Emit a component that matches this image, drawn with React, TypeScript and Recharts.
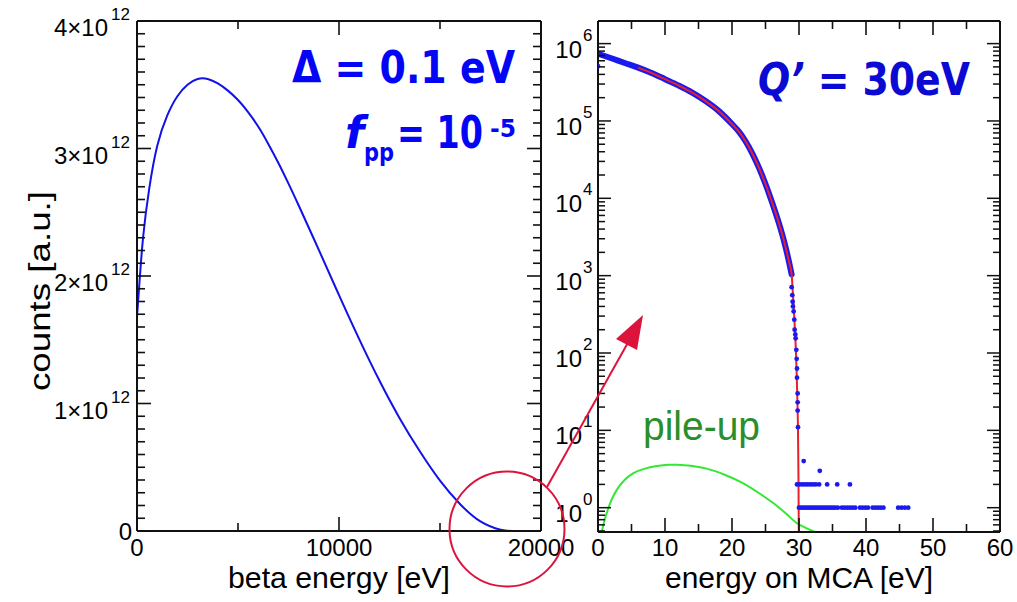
import React from "react";
import { ComposedChart, Line, Scatter, XAxis, YAxis } from "recharts";

// ---- left panel: beta spectrum ----
const betaEnergy = [0, 100, 300, 600, 1000, 1500, 2000, 2500, 3000, 3500, 4000, 4500, 5000, 5500, 6000, 6500, 7000, 7500, 8000, 9000, 10000, 11000, 12000, 13000, 14000, 15000, 16000, 17000, 18000, 18600];
const betaCounts = [1.68e12, 1.9e12, 2.3e12, 2.68e12, 3.02e12, 3.26e12, 3.41e12, 3.5e12, 3.545e12, 3.545e12, 3.51e12, 3.454e12, 3.38e12, 3.286e12, 3.172e12, 3.036e12, 2.886e12, 2.725e12, 2.555e12, 2.205e12, 1.85e12, 1.505e12, 1.18e12, 0.885e12, 0.625e12, 0.395e12, 0.21e12, 0.075e12, 0.01e12, 0];
const betaXTicks = [0, 10000, 20000];
const betaYTicks = [0, 1e12, 2e12, 3e12, 4e12];
const betaYLabels = ["0", "1×10", "2×10", "3×10", "4×10"];

// ---- right panel: MCA spectrum ----
const mcaEnergy = [0, 2, 4, 6, 8, 10, 12, 14, 16, 18, 20, 21, 22, 23, 24, 25, 25.7, 26, 26.5, 27, 27.5, 28, 28.5, 28.9];
const mcaCounts = [741000, 646000, 562000, 490000, 417000, 347000, 288000, 234000, 182000, 135000, 91200, 73300, 55000, 38500, 25100, 15300, 10400, 8750, 6520, 4780, 3400, 2330, 1520, 1040];
const fitTailEnergy = [29.1, 29.3, 29.45, 29.55, 29.65, 29.75, 29.85, 29.92, 29.97];
const fitTailCounts = [562, 282, 158, 100, 56, 26, 10, 2.5, 0.485];
const fitStart = 5;

const dotEnergy = [0, 28.9, 29.0, 29.05, 29.1, 29.2, 29.3, 29.35, 29.45, 29.5, 29.6, 29.65, 29.7, 29.7, 29.8, 29.8, 29.8, 29.85, 30.7, 33.1];
const dotCounts = [5.1e5, 710, 560, 460, 400, 345, 270, 200, 174, 155, 110, 84, 63, 48, 30, 23, 18, 11, 4, 3];
const twoCountEnergy = [29.7, 30.1, 30.5, 30.9, 31.3, 31.7, 32.1, 32.5, 33.0, 34.2, 35.7, 37.6];
const oneCountEnergy = [30.0, 30.3, 30.6, 30.9, 31.2, 31.5, 31.8, 32.1, 32.4, 32.7, 33.0, 33.3, 33.6, 33.9, 34.2, 34.5, 34.8, 35.1, 35.4, 35.8, 36.4, 36.8, 37.2, 37.6, 38.0, 38.4, 39.1, 39.5, 39.9, 40.3, 41.0, 41.4, 41.8, 42.2, 42.6, 44.8, 45.3, 45.8, 46.3];

const pileEnergy = [0.55, 0.9, 1.3, 2, 2.8, 4, 5.3, 7, 8.8, 10.5, 11.7, 13.5, 16.2, 19, 21.2, 24, 26.2, 28, 29.7, 31, 32.4];
const pileCounts = [0.485, 0.65, 0.85, 1.25, 1.7, 2.3, 2.8, 3.2, 3.45, 3.58, 3.6, 3.5, 3.2, 2.65, 2.17, 1.55, 1.14, 0.85, 0.63, 0.55, 0.485];

const mcaXTicks = [0, 10, 20, 30, 40, 50, 60];
const mcaYTicks = [1, 10, 100, 1000, 10000, 100000, 1000000];
const mcaYExp = ["0", "1", "2", "3", "4", "5", "6"];

const zip = (xs: number[], ys: number[]) => xs.map((e, i) => ({ e, v: ys[i] }));

const betaData = zip(betaEnergy, betaCounts);
const bandData = zip(mcaEnergy, mcaCounts);
const fitData = bandData.filter((d) => d.e >= fitStart).concat(zip(fitTailEnergy, fitTailCounts));
const dotData = zip(dotEnergy, dotCounts)
  .concat(twoCountEnergy.map((e) => ({ e, v: 2 })))
  .concat(oneCountEnergy.map((e) => ({ e, v: 1 })));
const pileData = zip(pileEnergy, pileCounts);

// tick positions incl. minor ones
const betaYMinor: number[] = [];
for (let i = 0; i <= 40; i++) betaYMinor.push(i * 1e11);
const betaXMinor = [0, 5000, 10000, 15000, 20000];
const mcaXMinor: number[] = [];
for (let i = 0; i <= 60; i += 5) mcaXMinor.push(i);
const LOG_MIN = 0.485;
const LOG_MAX = 1.96e6;
const mcaYMinor: number[] = [];
for (const d of [0.1, 1, 10, 100, 1000, 10000, 100000, 1000000]) {
  for (let m = 1; m <= 9; m++) {
    const t = d * m;
    if (t >= LOG_MIN && t <= LOG_MAX) mcaYMinor.push(t);
  }
}

const FONT = "'Liberation Sans', Arial, Helvetica, sans-serif";
const BOLD = "'DejaVu Sans', sans-serif";
const AX = "#111";
const MAJ = 14;
const MIN = 8;

const near = (a: number, b: number) => Math.abs(a - b) < 1e-6 * Math.max(1, Math.abs(b));

const BetaYTick = (p: any) => {
  const { x, y, payload } = p;
  const idx = betaYTicks.findIndex((t) => near(payload.value, t));
  const major = idx >= 0;
  return (
    <g>
      <line x1={x} x2={x + (major ? MAJ : MIN)} y1={y} y2={y} stroke={AX} strokeWidth={1.6} />
      {major && idx === 0 && (
        <text x={x - 5} y={y + 9} textAnchor="end" fontFamily={FONT} fontSize={24}>0</text>
      )}
      {major && idx > 0 && (
        <g fontFamily={FONT} fill="#000">
          <text x={x - 29} y={y + 15} textAnchor="end" fontSize={24}>{betaYLabels[idx]}</text>
          <text x={x - 7} y={y - 1} textAnchor="end" fontSize={17}>12</text>
        </g>
      )}
    </g>
  );
};

const BetaYTickR = (p: any) => {
  const { x, y, payload } = p;
  const major = betaYTicks.some((t) => near(payload.value, t));
  return <line x1={x} x2={x - (major ? MAJ : MIN)} y1={y} y2={y} stroke={AX} strokeWidth={1.6} />;
};

const BetaXTick = (p: any) => {
  const { x, y, payload } = p;
  const major = betaXTicks.some((t) => near(payload.value, t));
  return (
    <g>
      <line x1={x} x2={x} y1={y} y2={y - (major ? MAJ : MIN)} stroke={AX} strokeWidth={1.6} />
      {major && (
        <text x={x} y={y + 25} textAnchor="middle" fontFamily={FONT} fontSize={24}>{String(payload.value)}</text>
      )}
    </g>
  );
};

const BetaXTickT = (p: any) => {
  const { x, y, payload } = p;
  const major = betaXTicks.some((t) => near(payload.value, t));
  return <line x1={x} x2={x} y1={y} y2={y + (major ? MAJ : MIN)} stroke={AX} strokeWidth={1.6} />;
};

const McaYTick = (p: any) => {
  const { x, y, payload } = p;
  const idx = mcaYTicks.findIndex((t) => near(payload.value, t));
  const major = idx >= 0;
  return (
    <g>
      <line x1={x} x2={x + (major ? 13 : 7)} y1={y} y2={y} stroke={AX} strokeWidth={1.5} />
      {major && (
        <g fontFamily={FONT} fill="#000">
          <text x={x - 16} y={y + 14} textAnchor="end" fontSize={24}>10</text>
          <text x={x - 15} y={y - 3} fontSize={17}>{mcaYExp[idx]}</text>
        </g>
      )}
    </g>
  );
};

const McaYTickR = (p: any) => {
  const { x, y, payload } = p;
  const major = mcaYTicks.some((t) => near(payload.value, t));
  return <line x1={x} x2={x - (major ? 13 : 7)} y1={y} y2={y} stroke={AX} strokeWidth={1.5} />;
};

const McaXTick = (p: any) => {
  const { x, y, payload } = p;
  const major = mcaXTicks.some((t) => near(payload.value, t));
  return (
    <g>
      <line x1={x} x2={x} y1={y} y2={y - (major ? MAJ : MIN)} stroke={AX} strokeWidth={1.6} />
      {major && (
        <text x={x} y={y + 24} textAnchor="middle" fontFamily={FONT} fontSize={24}>{String(payload.value)}</text>
      )}
    </g>
  );
};

const McaXTickT = (p: any) => {
  const { x, y, payload } = p;
  const major = mcaXTicks.some((t) => near(payload.value, t));
  return <line x1={x} x2={x} y1={y} y2={y + (major ? MAJ : MIN)} stroke={AX} strokeWidth={1.6} />;
};

const Dot = (p: any) => <circle cx={p.cx} cy={p.cy} r={2.4} fill="#1a1af0" />;

const axisLine = { stroke: AX, strokeWidth: 2 };

export default function App() {
  return (
    <div style={{ position: "absolute", left: 0, top: 0, width: 1017, height: 602, background: "#fff", overflow: "hidden" }}>
      <div style={{ position: "absolute", left: 0, top: 0 }}>
        <ComposedChart width={600} height={602} margin={{ top: 20, right: 58, bottom: 0, left: 0 }}>
          <XAxis xAxisId="b" dataKey="e" type="number" domain={[0, 20000]} ticks={betaXMinor} interval={0} allowDataOverflow height={71} tickSize={0} tickMargin={0} tickLine={false} axisLine={axisLine} tick={BetaXTick} />
          <XAxis xAxisId="t" orientation="top" dataKey="e" type="number" domain={[0, 20000]} ticks={betaXMinor} interval={0} allowDataOverflow height={1} tickSize={0} tickMargin={0} tickLine={false} axisLine={axisLine} tick={BetaXTickT} />
          <YAxis yAxisId="l" type="number" domain={[0, 4e12]} ticks={betaYMinor} interval={0} allowDataOverflow width={137} tickSize={0} tickMargin={0} tickLine={false} axisLine={axisLine} tick={BetaYTick} />
          <YAxis yAxisId="r" orientation="right" type="number" domain={[0, 4e12]} ticks={betaYMinor} interval={0} allowDataOverflow width={1} tickSize={0} tickMargin={0} tickLine={false} axisLine={axisLine} tick={BetaYTickR} />
          <Line xAxisId="b" yAxisId="l" data={betaData} dataKey="v" type="natural" stroke="#1212e8" strokeWidth={2} dot={false} isAnimationActive={false} />
        </ComposedChart>
      </div>
      <div style={{ position: "absolute", left: 540, top: 0 }}>
        <ComposedChart width={477} height={602} margin={{ top: 20, right: 16, bottom: 0, left: 0 }}>
          <XAxis xAxisId="b" dataKey="e" type="number" domain={[0, 60]} ticks={mcaXMinor} interval={0} allowDataOverflow height={70} tickSize={0} tickMargin={0} tickLine={false} axisLine={axisLine} tick={McaXTick} />
          <XAxis xAxisId="t" orientation="top" dataKey="e" type="number" domain={[0, 60]} ticks={mcaXMinor} interval={0} allowDataOverflow height={1} tickSize={0} tickMargin={0} tickLine={false} axisLine={axisLine} tick={McaXTickT} />
          <YAxis yAxisId="l" type="number" scale="log" domain={[LOG_MIN, LOG_MAX]} ticks={mcaYMinor} interval={0} allowDataOverflow width={58} tickSize={0} tickMargin={0} tickLine={false} axisLine={axisLine} tick={McaYTick} />
          <YAxis yAxisId="r" orientation="right" type="number" scale="log" domain={[LOG_MIN, LOG_MAX]} ticks={mcaYMinor} interval={0} allowDataOverflow width={1} tickSize={0} tickMargin={0} tickLine={false} axisLine={axisLine} tick={McaYTickR} />
          <Line xAxisId="b" yAxisId="l" data={pileData} dataKey="v" type="monotone" stroke="#33e833" strokeWidth={2} dot={false} isAnimationActive={false} />
          <Line xAxisId="b" yAxisId="l" data={bandData} dataKey="v" type="monotone" stroke="#1a1af0" strokeWidth={6} strokeLinecap="round" dot={false} isAnimationActive={false} />
          <Scatter xAxisId="b" yAxisId="l" data={dotData} dataKey="v" shape={Dot} isAnimationActive={false} />
          <Line xAxisId="b" yAxisId="l" data={fitData} dataKey="v" type="monotone" stroke="#e8202c" strokeWidth={2} dot={false} isAnimationActive={false} />
        </ComposedChart>
      </div>
      <svg width={1017} height={602} style={{ position: "absolute", left: 0, top: 0, pointerEvents: "none" }}>
        <text x={339} y={588} textAnchor="middle" fontFamily={FONT} fontSize={29} textLength={222} lengthAdjust="spacingAndGlyphs">beta energy [eV]</text>
        <text x={799} y={588} textAnchor="middle" fontFamily={FONT} fontSize={29} textLength={268} lengthAdjust="spacingAndGlyphs">energy on MCA [eV]</text>
        <text transform="translate(50,291) rotate(-90)" textAnchor="middle" fontFamily={FONT} fontSize={30} textLength={200} lengthAdjust="spacingAndGlyphs">counts [a.u.]</text>

        <g fontFamily={BOLD} fontWeight="bold" fill="#0505f5">
          <text x={292} y={83} fontSize={44} textLength={223} lengthAdjust="spacingAndGlyphs">Δ = 0.1 eV</text>
          <text x={345} y={148} fontSize={44} fontStyle="italic">f</text>
          <text x={364} y={161} fontSize={24} textLength={30} lengthAdjust="spacingAndGlyphs">pp</text>
          <text x={397} y={148} fontSize={44} textLength={86} lengthAdjust="spacingAndGlyphs">= 10</text>
          <text x={490} y={137} fontSize={24} textLength={26} lengthAdjust="spacingAndGlyphs">-5</text>
        </g>
        <text x={758} y={95} fontFamily={BOLD} fontWeight="bold" fontSize={44} fill="#0a0ad2" textLength={212} lengthAdjust="spacingAndGlyphs">
          <tspan fontStyle="italic">Q’</tspan> = 30eV
        </text>
        <text x={643} y={440} fontFamily={FONT} fontSize={40} fill="#2a8f2a" textLength={117} lengthAdjust="spacingAndGlyphs">pile-up</text>

        <circle cx={507} cy={529} r={57.5} stroke="#dc143c" strokeWidth={2} fill="none" />
        <line x1={547} y1={487} x2={630} y2={339} stroke="#dc143c" strokeWidth={2} />
        <polygon points="643,315 616,339 637,350" fill="#dc143c" />
      </svg>
    </div>
  );
}
